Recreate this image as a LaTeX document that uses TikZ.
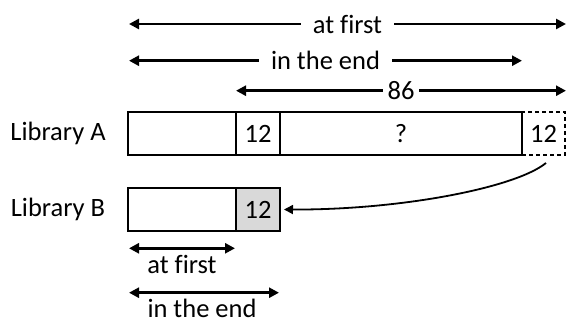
\documentclass[tikz,border=0pt]{standalone}
\usepackage{fontspec}
\setmainfont[Ligatures=NoCommon]{Carlito}
\usetikzlibrary{arrows.meta}
\begin{document}
\begin{tikzpicture}[x=1pt,y=-1pt,
  every node/.style={font=\fontsize{26.5}{30}\selectfont, inner sep=0pt},
  cell/.style={draw, line width=2pt, minimum height=43pt, anchor=center},
  dim/.style={line width=2.5pt, {Triangle[length=10pt,width=10pt]}-{Triangle[length=10pt,width=10pt]}},
  lbl/.style={fill=white, inner xsep=12pt, inner ysep=2pt},
]
\useasboundingbox (0,0) rectangle (567,320);
% Library A
\node[cell, minimum width=108pt] (a1) at (182,133.5) {};
\node[cell, minimum width=44pt] (a2) at (258,133.5) {12};
\node[cell, minimum width=43pt, line width=2.4pt, dash pattern=on 4pt off 3pt] (a4) at (543.5,133.5) {12};
\node[cell, minimum width=242pt] (a3) at (401,133.5) {?};
% Library B
\node[cell, minimum width=108pt] (b1) at (182,209.5) {};
\node[cell, minimum width=44pt, fill={rgb,255:red,217;green,217;blue,217}] (b2) at (258,209.5) {12};
% labels
\node[anchor=base] (la) at (58,140.7) {Library A};
\node[anchor=base] (lb) at (58,216.7) {Library B};
% top dimension arrows
\coordinate (t1l) at (129,24);
\coordinate (t1r) at (566,24);
\coordinate (t2l) at (129,60.7);
\coordinate (t2r) at (522,60.7);
\coordinate (t3l) at (236,90.7);
\coordinate (t3r) at (566,90.7);
\draw[dim] (t1l) -- node[lbl] (l1) {at first} (t1r);
\draw[dim] (t2l) -- node[lbl] (l2) {in the end} (t2r);
\draw[dim] (t3l) -- node[lbl, inner xsep=5pt] (l3) {86} (t3r);
% bottom dimension arrows
\coordinate (b1l) at (129,248.3);
\coordinate (b1r) at (235,248.3);
\coordinate (b2l) at (129,292.7);
\coordinate (b2r) at (279,292.7);
\draw[dim] (b1l) -- (b1r);
\draw[dim] (b2l) -- (b2r);
\node[anchor=base] (l4) at (182,273.3) {at first};
\node[anchor=base] (l5) at (202,317) {in the end};
% curved arrow
\coordinate (cs) at (546,163);
\draw[line width=1.8pt, -{Triangle[length=9pt,width=9pt]}] (cs) .. controls (515,188) and (400,210) .. ([xshift=3pt]b2.east);
\end{tikzpicture}
\end{document}
